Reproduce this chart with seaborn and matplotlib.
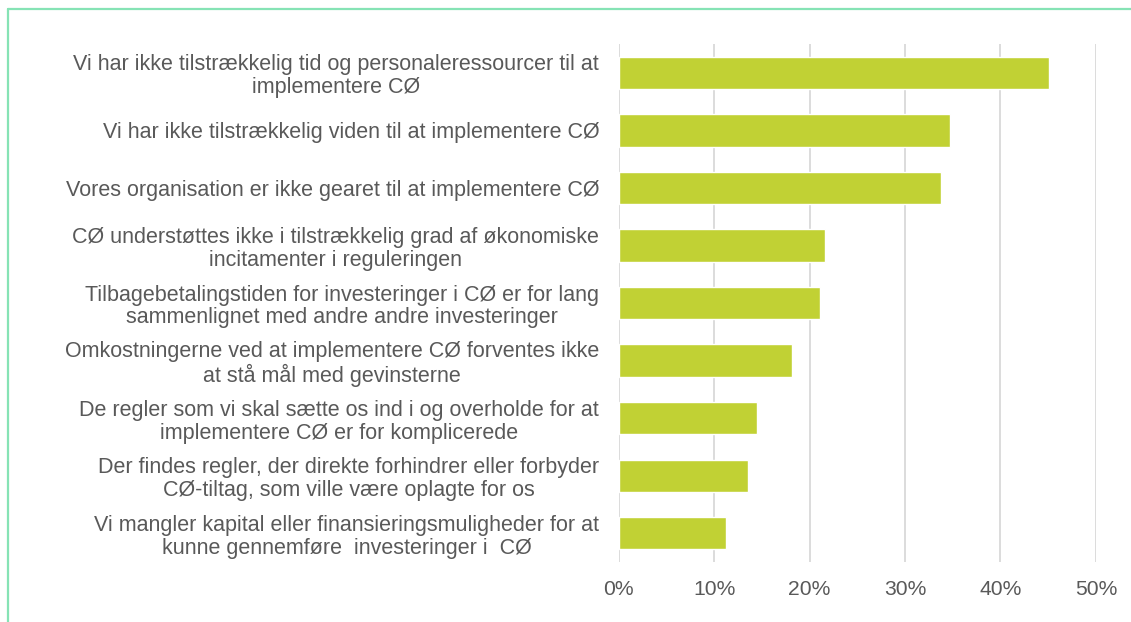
import numpy as np
import pandas as pd
import matplotlib
matplotlib.use("Agg")
import matplotlib.pyplot as plt
from matplotlib.lines import Line2D
import seaborn as sns

barrierer = [
    "Vi har ikke tilstrækkelig tid og personaleressourcer til at\nimplementere CØ",
    "Vi har ikke tilstrækkelig viden til at implementere CØ",
    "Vores organisation er ikke gearet til at implementere CØ",
    "CØ understøttes ikke i tilstrækkelig grad af økonomiske\nincitamenter i reguleringen",
    "Tilbagebetalingstiden for investeringer i CØ er for lang\nsammenlignet med andre andre investeringer",
    "Omkostningerne ved at implementere CØ forventes ikke\nat stå mål med gevinsterne",
    "De regler som vi skal sætte os ind i og overholde for at\nimplementere CØ er for komplicerede",
    "Der findes regler, der direkte forhindrer eller forbyder\nCØ-tiltag, som ville være oplagte for os",
    "Vi mangler kapital eller finansieringsmuligheder for at\nkunne gennemføre  investeringer i  CØ",
]
andel = [0.451, 0.347, 0.338, 0.216, 0.211, 0.182, 0.145, 0.136, 0.112]
ticks = [0, 0.1, 0.2, 0.3, 0.4, 0.5]

df = pd.DataFrame({"Barriere": barrierer, "Andel": andel})

sns.set_theme(style="white")
plt.rcParams["font.family"] = ["Liberation Sans", "DejaVu Sans"]

fig = plt.figure(figsize=(11.31, 6.22), dpi=100)
ax = fig.add_axes([0.547, 0.0965, 0.422, 0.8325])

sns.barplot(data=df, x="Andel", y="Barriere", color="#c1d134", width=0.56,
            saturation=1, ax=ax, zorder=3)

ax.set_xlim(0, 0.5)
ax.set_xticks(ticks)
ax.set_xticklabels([f"{int(t*100)}%" for t in ticks])
ax.xaxis.grid(True, color="#d9d9d9", linewidth=1.3, zorder=0)
ax.set_axisbelow(True)
ax.set_xlabel("")
ax.set_ylabel("")
for s in ax.spines.values():
    s.set_visible(False)

ax.tick_params(axis="x", length=0, pad=13, labelsize=15.2, labelcolor="#595959")
ax.tick_params(axis="y", length=0, pad=14, labelsize=15.5, labelcolor="#595959")
for lbl in ax.get_yticklabels():
    lbl.set_multialignment("center")
    lbl.set_linespacing(1.12)

# ramme
fig.add_artist(Line2D([8/1131, 1], [1 - 9/622, 1 - 9/622], color="#86e3b5", linewidth=1.6))
fig.add_artist(Line2D([8/1131, 8/1131], [0, 1 - 9/622], color="#86e3b5", linewidth=1.6))

plt.savefig("out.png", dpi=100)
